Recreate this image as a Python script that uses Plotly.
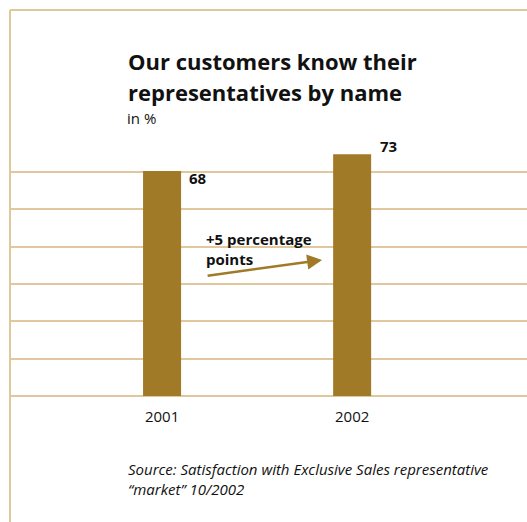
import plotly.graph_objects as go

years = ["2001", "2002"]
values = [68, 73]
title_lines = ["Our customers know their", "representatives by name"]
unit_label = "in %"
change_label = "+5 percentage<br>points"
source_lines = ["Source: Satisfaction with Exclusive Sales representative", "\u201cmarket\u201d 10/2002"]

BAR = "#A17A28"
LINE = "#E0C79C"
FONT = "Open Sans"

W, H = 527, 522
L, T, B = 10, 10, 126
PW, PH = W - L, H - T - B


def px(x):
    return (x - L) / PW


def py(y):
    return (H - B - y) / PH


ymax = 116.6
grid_step = 11.28

fig = go.Figure()
fig.add_trace(go.Bar(x=[0, 1], y=values, width=0.2, marker=dict(color=BAR, line=dict(width=0)),
                     hoverinfo="skip"))

fig.update_layout(
    width=W, height=H,
    margin=dict(l=L, r=0, t=T, b=B),
    paper_bgcolor="white", plot_bgcolor="white",
    showlegend=False,
    font=dict(family=FONT, color="#111111"),
    xaxis=dict(range=[-0.8, 1.92], tickvals=[0, 1], ticktext=years, showgrid=False, zeroline=False,
               showline=False, ticks="", tickfont=dict(size=15, color="#111111"), ticklabelstandoff=10),
    yaxis=dict(range=[0, ymax], tickvals=[i * grid_step for i in range(7)], showticklabels=False,
               showgrid=True, gridcolor=LINE, gridwidth=2, zeroline=False, showline=False),
)

# frame lines and baseline
fig.add_shape(type="line", xref="paper", yref="paper", x0=0, x1=0, y0=py(H), y1=1,
              line=dict(color=LINE, width=2))
fig.add_shape(type="line", xref="paper", yref="paper", x0=0, x1=1, y0=1, y1=1,
              line=dict(color=LINE, width=2))
fig.add_shape(type="line", xref="paper", yref="paper", x0=0, x1=1, y0=0, y1=0, layer="below",
              line=dict(color=LINE, width=2))

# title
fig.add_annotation(xref="paper", yref="paper", x=px(126), y=py(61), xanchor="left", yanchor="middle",
                   text="<b>" + title_lines[0] + "</b>", showarrow=False, font=dict(size=22, color="#111111"))
fig.add_annotation(xref="paper", yref="paper", x=px(126), y=py(92), xanchor="left", yanchor="middle",
                   text="<b>" + title_lines[1] + "</b>", showarrow=False, font=dict(size=22, color="#111111"))
fig.add_annotation(xref="paper", yref="paper", x=px(125), y=py(118), xanchor="left", yanchor="middle",
                   text=unit_label, showarrow=False, font=dict(size=15, color="#111111"))

# value labels
fig.add_annotation(x=0, y=values[0], xanchor="left", yanchor="top", xshift=25, yshift=5,
                   text="<b>%d</b>" % values[0], showarrow=False, font=dict(size=15, color="#111111"))
fig.add_annotation(x=1, y=values[1], xanchor="left", yanchor="bottom", xshift=26, yshift=-4,
                   text="<b>%d</b>" % values[1], showarrow=False, font=dict(size=15, color="#111111"))

# change label + arrow
fig.add_annotation(xref="paper", yref="paper", x=px(204), y=py(249), xanchor="left", yanchor="middle",
                   text="<b>" + change_label + "</b>", showarrow=False, align="left",
                   font=dict(size=15, color="#111111"))
fig.add_annotation(x=0.842, y=41.1, ax=-116, ay=16, axref="pixel", ayref="pixel", text="",
                   showarrow=True, arrowhead=2, arrowsize=1.2, arrowwidth=2.5, arrowcolor=BAR)

# source
fig.add_annotation(xref="paper", yref="paper", x=px(126), y=py(479), xanchor="left", yanchor="middle",
                   text="<i>" + source_lines[0] + "<br>" + source_lines[1] + "</i>", showarrow=False,
                   align="left", font=dict(size=15, color="#111111"))

fig.write_html("out.html")
